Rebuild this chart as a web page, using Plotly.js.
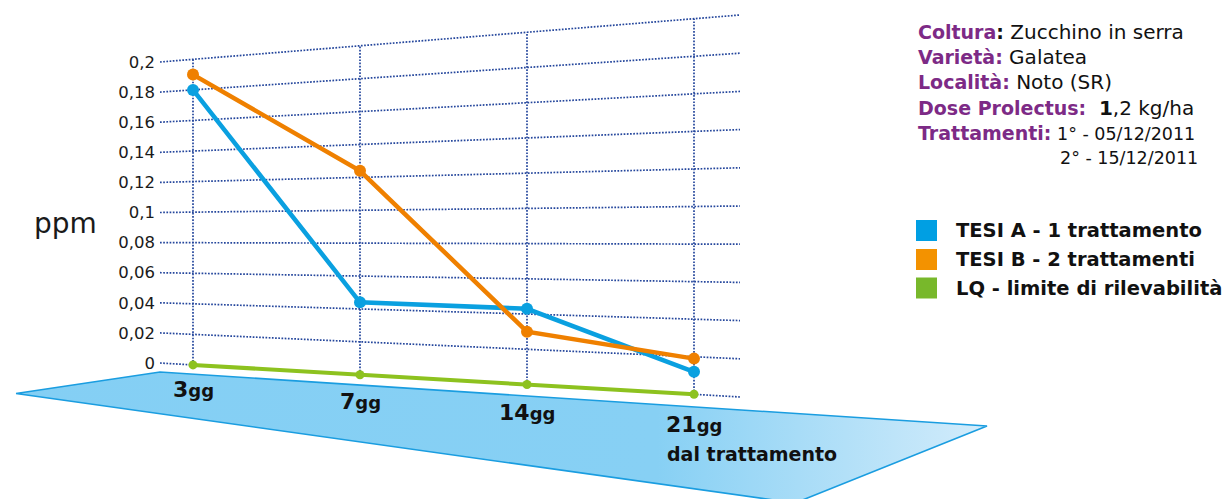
<!DOCTYPE html>
<html>
<head>
<meta charset="utf-8">
<script src="https://cdn.plot.ly/plotly-3.0.1.min.js"></script>
<style>
  html, body { margin: 0; padding: 0; background: #ffffff; }
  #chart { width: 1231px; height: 499px; }
</style>
</head>
<body>
<div id="chart"></div>
<script>
// Residues of Prolectus in greenhouse zucchini, days after treatment
const days = ['3', '7', '14', '21'];
const tesiA = [0.180, 0.044, 0.043, 0.012];   // TESI A - 1 trattamento
const tesiB = [0.190, 0.124, 0.030, 0.019];   // TESI B - 2 trattamenti
const lq = [0, 0, 0, 0];                       // LQ - limite di rilevabilità
const tickVals = [0, 0.02, 0.04, 0.06, 0.08, 0.1, 0.12, 0.14, 0.16, 0.18, 0.2];
const tickText = ['0', '0,02', '0,04', '0,06', '0,08', '0,1', '0,12', '0,14', '0,16', '0,18', '0,2'];

const W = 1231, H = 499;
const FONT = 'DejaVu Sans, Verdana, sans-serif';

// Perspective of the chart wall: x in category units, y in ppm measured on the left wall.
// Towards the right the wall leans down and its value scale opens up.
const U_L = -33 / 167, U_R = 547 / 167;     // left and right edges of the wall
const SINK = 0.006505, STRETCH = 0.07749;
function proj(u, v) {
  const d = u - U_L;
  return -SINK * d + v * (1 + STRETCH * d);
}
// screen helpers for decoration placed outside the wall
const uOf = x => (x - 193) / 167;
const yOf = y => (363 - y) / 1505;
const px = x => x / W;
const py = y => 1 - y / H;

const traces = [];

// floor plate under the wall
const floorPts = [[16, 393.5], [160, 372], [987, 426], [795, 503], [16, 393.5]];
traces.push({
  type: 'scatter', mode: 'lines', hoverinfo: 'skip', showlegend: false,
  x: floorPts.map(p => uOf(p[0])), y: floorPts.map(p => yOf(p[1])),
  fill: 'toself', fillcolor: '#85cff4',
  fillgradient: { type: 'horizontal',
    colorscale: [[0, '#84cff4'], [0.66, '#87d0f4'], [1, '#d3ecfb']] },
  line: { color: '#1a9de0', width: 1.6 }
});

// dotted grid on the wall
const gx = [], gy = [];
tickVals.forEach(v => {
  gx.push(U_L, U_R, null);
  gy.push(proj(U_L, v), proj(U_R, v), null);
});
days.forEach((d, i) => {
  gx.push(i, i, null);
  gy.push(proj(i, 0), proj(i, tickVals[tickVals.length - 1]), null);
});
traces.push({
  type: 'scatter', mode: 'lines', hoverinfo: 'skip', showlegend: false,
  x: gx, y: gy,
  line: { color: '#24469c', width: 1.7, dash: '1.7px,1.5px' }
});

function series(vals, color, width, msize) {
  return {
    type: 'scatter', mode: 'lines+markers', showlegend: false,
    x: vals.map((v, i) => i), y: vals.map((v, i) => proj(i, v)),
    line: { color: color, width: width },
    marker: { color: color, size: msize }
  };
}
traces.push(series(lq, '#8dc21f', 4, 9));
traces.push(series(tesiA, '#0aa0e0', 4.5, 12));
traces.push(series(tesiB, '#ef8000', 4.5, 12));

const annotations = [];

// day labels along the floor
days.forEach((d, i) => {
  annotations.push({
    xref: 'x', yref: 'y', x: i, y: proj(i, -0.016),
    xanchor: 'center', yanchor: 'middle', showarrow: false,
    text: '<b>' + d + '<span style="font-size:18px">gg</span></b>',
    font: { family: FONT, size: 22, color: '#111111' }
  });
});
annotations.push({
  xref: 'paper', yref: 'paper', x: px(752), y: py(454),
  xanchor: 'center', yanchor: 'middle', showarrow: false,
  text: '<b>dal trattamento</b>',
  font: { family: FONT, size: 19, color: '#111111' }
});

// unit
annotations.push({
  xref: 'paper', yref: 'paper', x: px(65), y: py(223),
  xanchor: 'center', yanchor: 'middle', showarrow: false,
  text: 'ppm', font: { family: FONT, size: 28, color: '#1a1a1a' }
});

// trial information
const PURPLE = '#7d2a86';
const lab = (t, colonBlack) => '<span style="font-size:19px;color:' + PURPLE + '"><b>' + t +
  (colonBlack ? '</b></span><span style="font-size:19px"><b>:</b></span>' : ':</b></span>');
const word = t => '<span style="font-size:20px">' + t + '</span>';
const info = [
  lab('Coltura', true) + word(' Zucchino in serra'),
  lab('Varietà') + word(' Galatea'),
  lab('Località') + word(' Noto (SR)'),
  lab('Dose Prolectus') + word('  <b>1</b>,2 kg/ha'),
  lab('Trattamenti') + ' 1° - 05/12/2011'
];
const infoY = [32, 57, 82, 108, 133];
info.forEach((t, k) => {
  annotations.push({
    xref: 'paper', yref: 'paper', x: px(916), y: py(infoY[k]),
    xanchor: 'left', yanchor: 'middle', showarrow: false,
    text: t, font: { family: FONT, size: 17.5, color: '#111111' }
  });
});
annotations.push({
  xref: 'paper', yref: 'paper', x: px(1200), y: py(158),
  xanchor: 'right', yanchor: 'middle', showarrow: false,
  text: '2° - 15/12/2011', font: { family: FONT, size: 17.5, color: '#111111' }
});

// legend
const legendNames = ['TESI A - 1 trattamento', 'TESI B - 2 trattamenti', 'LQ - limite di rilevabilità'];
const legendColors = ['#009fe3', '#f39200', '#78b82b'];
const legendY = [230.5, 259.5, 288];
const shapes = [];
legendNames.forEach((n, k) => {
  shapes.push({
    type: 'rect', xref: 'paper', yref: 'paper',
    x0: px(916), x1: px(937), y0: py(legendY[k] - 10.5), y1: py(legendY[k] + 10.5),
    fillcolor: legendColors[k], line: { width: 0 }
  });
  annotations.push({
    xref: 'paper', yref: 'paper', x: px(954), y: py(legendY[k]),
    xanchor: 'left', yanchor: 'middle', showarrow: false,
    text: '<b>' + n + '</b>', font: { family: FONT, size: 19.5, color: '#111111' }
  });
});

const layout = {
  width: W, height: H,
  margin: { l: 0, r: 0, t: 0, b: 0 },
  paper_bgcolor: '#ffffff', plot_bgcolor: 'rgba(0,0,0,0)',
  showlegend: false,
  xaxis: {
    range: [uOf(0), uOf(W)], visible: false, fixedrange: true
  },
  yaxis: {
    range: [yOf(H), yOf(0)], anchor: 'free', position: px(160),
    showgrid: false, zeroline: false, showline: false,
    ticks: '', ticklen: 0, ticklabelstandoff: 5,
    tickmode: 'array', tickvals: tickVals, ticktext: tickText,
    tickfont: { family: FONT, size: 16.5, color: '#1a1a1a' },
    fixedrange: true
  },
  annotations: annotations,
  shapes: shapes
};

Plotly.newPlot('chart', traces, layout, { staticPlot: true, displayModeBar: false });
</script>
</body>
</html>
